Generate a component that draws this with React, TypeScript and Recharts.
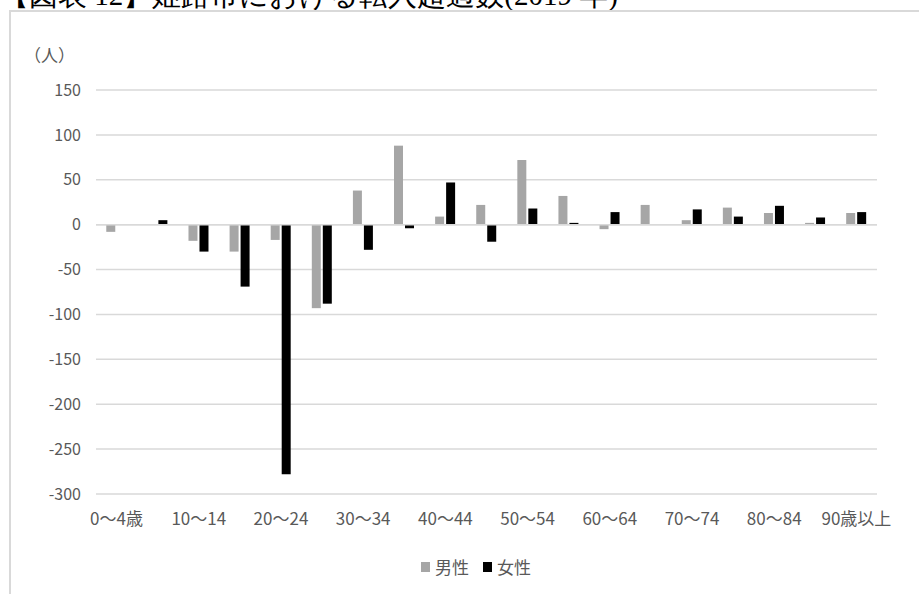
import React from "react";
import {
  BarChart,
  Bar,
  XAxis,
  YAxis,
  CartesianGrid,
  ReferenceLine,
} from "recharts";

// 年齢階級
const ages = [
  "0～4歳", "5～9", "10～14", "15～19", "20～24", "25～29", "30～34",
  "35～39", "40～44", "45～49", "50～54", "55～59", "60～64", "65～69",
  "70～74", "75～79", "80～84", "85～89", "90歳以上",
];
const male = [-8, 0, -18, -30, -17, -93, 38, 88, 9, 22, 72, 32, -5, 22, 5, 19, 13, 2, 13];
const female = [0, 5, -30, -69, -278, -88, -28, -4, 47, -19, 18, 2, 14, 0, 17, 9, 21, 8, 14];
const yTicks = [150, 100, 50, 0, -50, -100, -150, -200, -250, -300];

const seriesNames = { male: "男性", female: "女性" };
const MALE_COLOR = "#A6A6A6";
const FEMALE_COLOR = "#000000";
const TEXT = "#595959";
const GRID = "#D9D9D9";
const FONT = '"Noto Sans CJK JP", "Noto Sans", sans-serif';

const data = ages.map((age, i) => ({ age, male: male[i], female: female[i] }));

function LegendBox() {
  const items = [
    { name: seriesNames.male, color: MALE_COLOR },
    { name: seriesNames.female, color: FEMALE_COLOR },
  ];
  return (
    <div style={{ display: "flex", alignItems: "center", fontFamily: FONT, fontSize: 17, color: TEXT }}>
      {items.map((it) => (
        <div key={it.name} style={{ display: "flex", alignItems: "center", marginRight: 14 }}>
          <span style={{ display: "inline-block", width: 9, height: 10, background: it.color, marginRight: 5 }} />
          <span>{it.name}</span>
        </div>
      ))}
    </div>
  );
}

export default function App() {
  return (
    <div style={{ position: "absolute", left: 0, top: 0, width: 919, height: 594, overflow: "hidden", background: "#fff" }}>
      <div
        style={{
          position: "absolute",
          left: 0,
          top: -24,
          fontFamily: '"Liberation Serif", serif',
          fontSize: 29,
          color: "#000",
          whiteSpace: "nowrap",
        }}
      >
        【図表 12】姫路市における転入超過数(2019 年)
      </div>
      <div
        style={{
          position: "absolute",
          left: 9,
          top: 10,
          width: 940,
          height: 620,
          border: `2px solid ${GRID}`,
          boxSizing: "border-box",
        }}
      />
      <div style={{ position: "absolute", left: 24, top: 42, fontFamily: FONT, fontSize: 17, color: TEXT }}>
        （人）
      </div>
      <div style={{ position: "absolute", left: 0, top: 0 }}>
        <BarChart
          width={919}
          height={594}
          data={data}
          margin={{ top: 90, right: 42, bottom: 70, left: 0 }}
          barCategoryGap="25%"
          barGap={2}
        >
          <CartesianGrid vertical={false} stroke={GRID} strokeWidth={1.5} />
          <XAxis
            dataKey="age"
            interval={1}
            height={30}
            axisLine={false}
            tickLine={false}
            tickSize={0}
            tickMargin={19}
            tick={{ fill: TEXT, fontSize: 17, fontFamily: FONT }}
          />
          <YAxis
            width={96}
            domain={[-300, 150]}
            ticks={yTicks}
            axisLine={false}
            tickLine={false}
            tickSize={0}
            tickMargin={15}
            tick={{ fill: TEXT, fontSize: 16, fontFamily: FONT }}
          />
          <ReferenceLine y={0} stroke={GRID} strokeWidth={1.5} />
          <Bar dataKey="male" name={seriesNames.male} fill={MALE_COLOR} isAnimationActive={false} />
          <Bar dataKey="female" name={seriesNames.female} fill={FEMALE_COLOR} isAnimationActive={false} />
        </BarChart>
      </div>
      <div style={{ position: "absolute", left: 421, top: 554 }}>
        <LegendBox />
      </div>
    </div>
  );
}
